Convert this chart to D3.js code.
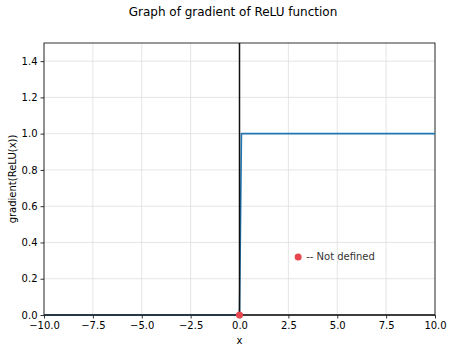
<!DOCTYPE html>
<html>
<head>
<meta charset="utf-8">
<script src="https://cdn.jsdelivr.net/npm/d3@7"></script>
<style>
  body { margin: 0; background: #fff; }
  text { font-family: "DejaVu Sans", sans-serif; }
</style>
</head>
<body>
<script>
const w = 453;
const h = 353;
const margin = { top: 43, right: 18, bottom: 38, left: 44 };

// data
const xTicks = [-10, -7.5, -5, -2.5, 0, 2.5, 5, 7.5, 10];
const yTicks = [0, 0.2, 0.4, 0.6, 0.8, 1.0, 1.2, 1.4];
const gradX = [-10, 0, 0.1, 10];
const gradY = [0, 0, 1, 1];
const undefinedPoint = [0, 0];
const notePoint = [3, 0.32];
const noteText = "-- Not defined";

const svg = d3
  .select("body")
  .append("svg")
  .attr("width", w)
  .attr("height", h);

const x = d3.scaleLinear().domain([-10, 10]).range([margin.left, w - margin.right]);
const y = d3.scaleLinear().domain([0, 1.5]).range([h - margin.bottom, margin.top]);

// grid
svg
  .append("g")
  .selectAll("line")
  .data(xTicks)
  .enter()
  .append("line")
  .attr("x1", (d) => x(d))
  .attr("x2", (d) => x(d))
  .attr("y1", y(0))
  .attr("y2", y(1.5))
  .attr("stroke", "#dedede")
  .attr("stroke-width", 0.8);
svg
  .append("g")
  .selectAll("line")
  .data(yTicks)
  .enter()
  .append("line")
  .attr("x1", x(-10))
  .attr("x2", x(10))
  .attr("y1", (d) => y(d))
  .attr("y2", (d) => y(d))
  .attr("stroke", "#dedede")
  .attr("stroke-width", 0.8);

// axes
const xAxis = svg
  .append("g")
  .attr("transform", `translate(0,${y(0)})`)
  .call(d3.axisBottom(x).tickValues(xTicks).tickFormat(d3.format(".1f")).tickSize(3.5).tickPadding(3));
const yAxis = svg
  .append("g")
  .attr("transform", `translate(${x(-10)},0)`)
  .call(d3.axisLeft(y).tickValues(yTicks).tickFormat(d3.format(".1f")).tickSize(3.5).tickPadding(3));
[xAxis, yAxis].forEach((a) => {
  a.selectAll("text").attr("font-size", 10).attr("fill", "#000").style("font-family", "DejaVu Sans");
  a.selectAll("line").attr("stroke", "#000").attr("stroke-width", 0.8);
  a.select(".domain").remove();
});

// frame
svg
  .append("rect")
  .attr("x", x(-10))
  .attr("y", y(1.5))
  .attr("width", x(10) - x(-10))
  .attr("height", y(0) - y(1.5))
  .attr("fill", "none")
  .attr("stroke", "#000")
  .attr("stroke-width", 0.8);

// gradient line
const line = d3
  .line()
  .x((d, i) => x(gradX[i]))
  .y((d, i) => y(gradY[i]));
svg
  .append("path")
  .datum(gradX)
  .attr("d", line)
  .attr("fill", "none")
  .attr("stroke", "#1f77b4")
  .attr("stroke-width", 1.6);

// axis lines through origin
svg
  .append("line")
  .attr("x1", x(0))
  .attr("x2", x(0))
  .attr("y1", y(0))
  .attr("y2", y(1.5))
  .attr("stroke", "#111")
  .attr("stroke-width", 1.5);
svg
  .append("line")
  .attr("x1", x(-10))
  .attr("x2", x(10))
  .attr("y1", y(0))
  .attr("y2", y(0))
  .attr("stroke", "#222")
  .attr("stroke-width", 1.6);

// undefined point + note
svg
  .append("circle")
  .attr("cx", x(undefinedPoint[0]))
  .attr("cy", y(undefinedPoint[1]))
  .attr("r", 3.5)
  .attr("fill", "#e8474f");
svg
  .append("circle")
  .attr("cx", x(notePoint[0]))
  .attr("cy", y(notePoint[1]))
  .attr("r", 3.5)
  .attr("fill", "#e8474f");
svg
  .append("text")
  .attr("x", x(notePoint[0]) + 8)
  .attr("y", y(notePoint[1]) + 3.5)
  .attr("font-size", 10)
  .attr("fill", "#333")
  .text(noteText);

// labels
svg
  .append("text")
  .attr("x", 233)
  .attr("y", 16)
  .attr("text-anchor", "middle")
  .attr("font-size", 12)
  .text("Graph of gradient of ReLU function");
svg
  .append("text")
  .attr("x", x(0))
  .attr("y", 344)
  .attr("text-anchor", "middle")
  .attr("font-size", 10)
  .text("x");
svg
  .append("text")
  .attr("transform", `translate(16,${y(0.75)}) rotate(-90)`)
  .attr("text-anchor", "middle")
  .attr("font-size", 10)
  .text("gradient(ReLU(x))");
</script>
</body>
</html>
